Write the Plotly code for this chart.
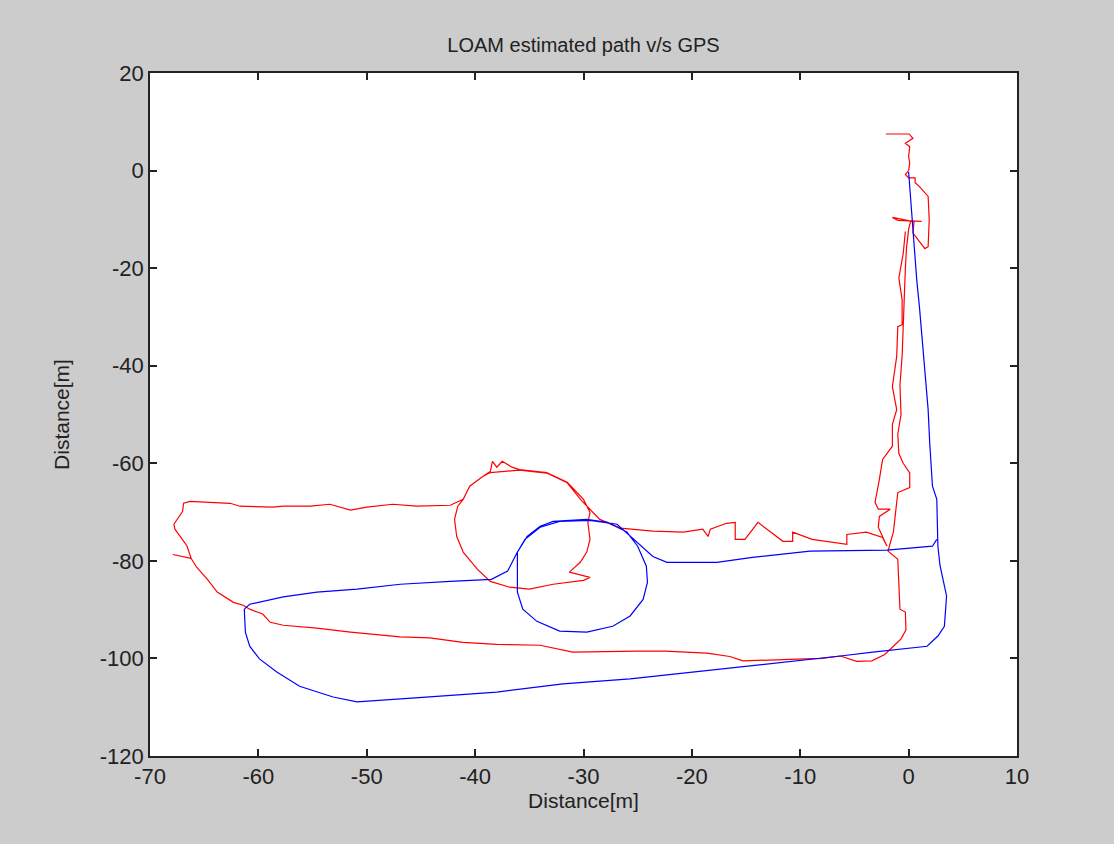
import plotly.graph_objects as go

# GPS path (blue)
gps_x = [0.0, 0.3, 0.75, 1.0, 1.5, 1.8, 1.95, 2.2, 2.6, 2.7, 2.9, 3.5, 3.3, 2.7, 1.7, -0.2, -3.3, -6.3,
         -13.45, -19.5, -25.7, -31.9, -38.0, -44.2, -50.9, -53.1, -56.2, -58.3, -59.9, -60.8, -61.2, -61.3,
         -60.8, -57.7, -54.6, -50.9, -46.9, -42.3, -38.5,
         -37.0, -36.1, -35.2, -34.0, -32.8, -29.7, -27.8, -26.0, -25.0, -24.2, -24.1, -24.5, -25.7, -27.3,
         -29.7, -32.2, -34.3, -35.6, -36.1, -36.1, -36.1, -35.4, -34.0, -32.2, -29.4, -26.9, -25.1, -23.6,
         -22.3, -17.7, -14.4, -9.1, -2.0, 2.2, 2.6]
gps_y = [-0.3, -10.0, -22.4, -28.0, -40.2, -49.0, -56.0, -64.7, -67.4, -77.0, -81.0, -87.2, -93.4, -95.4, -97.5, -97.9, -98.7, -99.5,
         -101.2, -102.6, -104.2, -105.2, -106.9, -107.9, -108.9, -107.9, -105.7, -102.8, -100.1, -97.5, -94.6, -89.9,
         -88.9, -87.4, -86.4, -85.8, -84.8, -84.2, -83.8,
         -82.1, -78.2, -75.0, -72.9, -71.9, -71.5, -72.1, -74.1, -77.0, -81.1, -84.4, -87.9, -91.3, -93.4,
         -94.6, -94.4, -92.4, -89.9, -86.4, -82.3, -78.2, -75.6, -73.1, -71.9, -71.7, -72.5, -76.2, -79.1,
         -80.3, -80.3, -79.3, -78.0, -77.8, -77.0, -75.6]

# LOAM estimated path (red)
loam_x = [-2.1, 0.05, 0.4, -0.3, 0.1, 0.0, 0.1, 0.0, -0.3, 0.0, 0.6, 0.6, 1.0, 1.8, 1.9, 1.8, 1.5, 0.4, 0.5,
          -1.5, -1.0, 1.2, 0.2, 0.0,
          -0.2, -0.3, -0.4, -0.5, -0.6, -0.8, -0.7, -1.0, -0.9, -0.5, 0.1, 0.1, -1.0, -1.2, -1.4, -1.9, -1.0,
          -0.8, -0.3, -0.25, -0.7, -1.4, -2.2, -3.4, -4.8, -6.3, -8.0, -10.9, -13.5, -15.3, -16.5, -18.6,
          -22.5, -25.1, -31.0, -34.0, -38.0, -41.1, -44.2, -46.9, -51.5, -54.6, -57.7, -58.9, -59.6, -60.8,
          -61.4, -62.3, -63.8, -64.7, -65.7, -66.2, -67.9, -66.2, -66.6, -67.2, -67.7, -67.8, -67.4, -67.0,
          -66.9, -66.3, -64.5, -62.6, -61.7, -58.7, -57.7, -55.2, -53.4, -51.5, -50.0, -47.6, -45.4, -42.3,
          -41.1, -40.5, -39.3, -38.6, -38.4, -38.0, -37.5, -36.6, -35.9, -33.4, -31.5, -30.0, -29.4, -29.6,
          -29.4, -29.7, -30.3, -31.3, -29.4, -30.0, -32.8, -35.0, -36.8, -38.6, -39.8, -41.1, -41.7, -41.9,
          -41.6, -41.1, -40.5, -39.3, -38.6, -35.9, -33.4, -31.5, -30.2,
          -28.5, -26.6, -23.6, -20.8, -19.0, -18.5, -18.3, -16.8, -16.0, -16.0, -15.1, -13.9, -12.8, -11.6,
          -10.7, -10.7, -8.9, -5.7, -5.7, -3.9, -2.4, -2.0,
          -2.8, -2.7, -1.7, -2.8, -3.1, -2.7, -2.4, -1.5, -1.5, -1.1, -1.5, -1.1, -1.0, -0.6, -0.6, -0.9,
          -0.5, -0.3]
loam_y = [7.5, 7.5, 6.6, 5.6, 4.9, 2.9, 1.5, 0.0, -0.8, -1.5, -1.5, -2.5, -3.3, -5.3, -10.0, -15.6, -16.0, -12.8, -10.5,
          -9.6, -10.2, -10.4, -10.3, -12.0,
          -16.0, -20.0, -26.0, -31.0, -38.0, -44.0, -50.0, -54.0, -58.0, -60.0, -62.0, -65.0, -66.0, -70.0, -74.0, -78.0, -79.7,
          -89.9, -90.5, -94.2, -96.0, -97.5, -99.2, -100.5, -100.6, -99.5, -100.0, -100.2, -100.3, -100.5, -99.6, -98.9,
          -98.5, -98.5, -98.7, -97.3, -97.1, -96.7, -95.8, -95.6, -94.6, -93.8, -93.2, -92.6, -90.9, -89.9,
          -89.1, -88.5, -86.4, -83.8, -81.3, -79.5, -78.7, -79.5, -76.9, -74.9, -73.5, -72.5, -71.1, -69.9,
          -68.2, -67.8, -68.0, -68.2, -68.8, -69.0, -68.8, -68.8, -68.4, -69.6, -69.0, -68.4, -68.8, -68.6,
          -67.4, -64.7, -62.7, -61.7, -59.6, -60.8, -59.6, -60.8, -61.3, -61.9, -63.9, -67.4, -70.1, -72.1,
          -75.6, -78.2, -80.3, -82.3, -83.4, -84.0, -84.8, -85.8, -85.4, -84.2, -81.7, -78.2, -75.0, -71.5,
          -68.8, -67.4, -64.7, -62.7, -61.9, -61.4, -62.0, -64.0, -67.6,
          -71.5, -73.3, -73.9, -74.1, -73.5, -75.0, -73.5, -72.3, -72.1, -75.6, -75.6, -72.1, -73.9, -76.0,
          -76.0, -74.1, -75.6, -76.6, -74.6, -74.1, -75.2, -77.0,
          -73.1, -70.9, -69.4, -69.4, -68.0, -63.3, -59.2, -56.5, -52.0, -49.0, -44.3, -38.1, -32.0, -31.6, -26.5, -22.0,
          -17.0, -12.5]

x_ticks = [-70, -60, -50, -40, -30, -20, -10, 0, 10]
y_ticks = [-120, -100, -80, -60, -40, -20, 0, 20]

fig = go.Figure()
fig.add_trace(go.Scatter(x=loam_x, y=loam_y, mode="lines", name="LOAM",
                         line=dict(color="#ff0000", width=1.2)))
fig.add_trace(go.Scatter(x=gps_x, y=gps_y, mode="lines", name="GPS",
                         line=dict(color="#0000ff", width=1.2)))

font_family = "Liberation Sans, Arial, sans-serif"
axis_common = dict(showline=True, linecolor="#222222", linewidth=1.5, mirror="ticks",
                   ticks="inside", ticklen=7, tickwidth=1.5, tickcolor="#222222",
                   showgrid=False, zeroline=False,
                   tickfont=dict(family=font_family, size=22, color="#222222"))

fig.update_layout(
    width=1114, height=844,
    margin=dict(l=150, r=97, t=73, b=88),
    paper_bgcolor="#cccccc", plot_bgcolor="#ffffff",
    showlegend=False,
    title=dict(text="LOAM estimated path v/s GPS", x=0.5, xref="paper",
               y=1 - 45 / 844, yanchor="middle",
               font=dict(family=font_family, size=20, color="#222222")),
    xaxis=dict(range=[-70, 10], tickvals=x_ticks, ticktext=[str(v) for v in x_ticks],
               title=dict(text="Distance[m]", standoff=4,
                          font=dict(family=font_family, size=21, color="#222222")),
               **axis_common),
    yaxis=dict(range=[-120, 20], tickvals=y_ticks, ticktext=[str(v) for v in y_ticks],
               title=dict(text="Distance[m]", standoff=24,
                          font=dict(family=font_family, size=21, color="#222222")),
               **axis_common),
)

fig.write_html("out.html")
